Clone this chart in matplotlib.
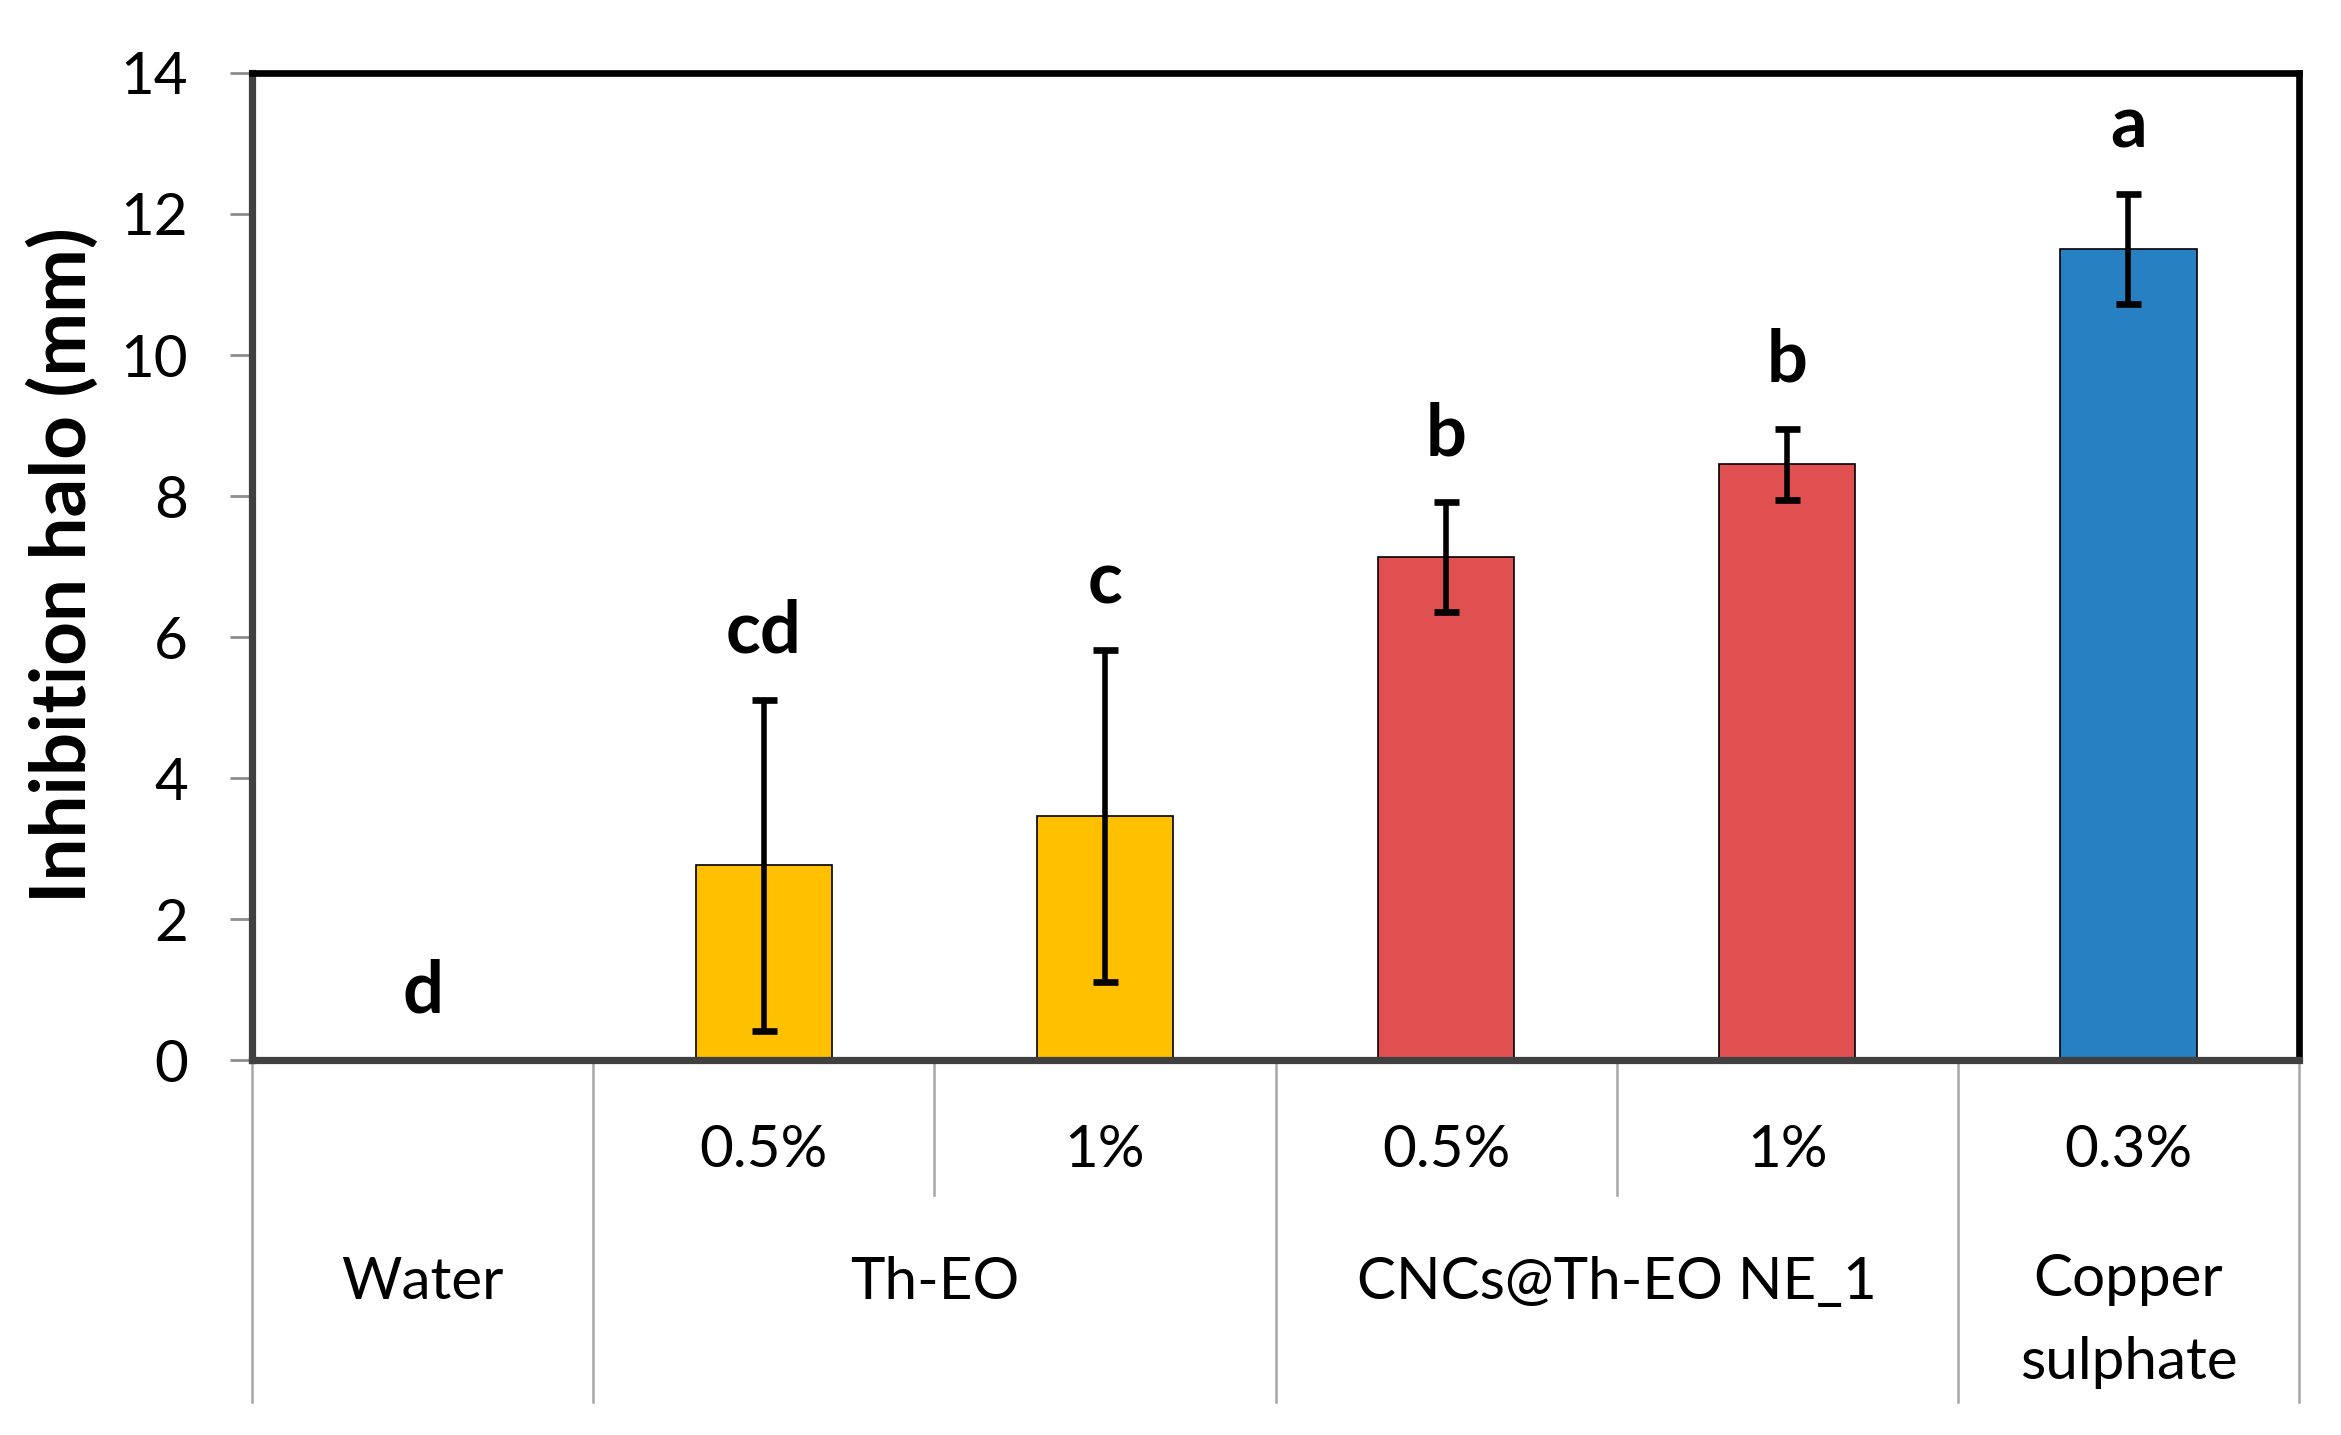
import matplotlib
matplotlib.use("Agg")
import matplotlib.pyplot as plt
import numpy as np

plt.rcParams['font.family'] = ['Lato', 'DejaVu Sans']

# ---- data ----
sub_labels = ["", "0.5%", "1%", "0.5%", "1%", "0.3%"]
group_labels = ["Water", "Th-EO", "CNCs@Th-EO NE_1", "Copper\nsulphate"]
group_spans = [(0, 0), (1, 2), (3, 4), (5, 5)]   # first/last category index in each group
values = [0.0, 2.76, 3.46, 7.13, 8.45, 11.5]
errors = [0.0, 2.35, 2.35, 0.78, 0.50, 0.78]
letters = ["d", "cd", "c", "b", "b", "a"]
colors = ["#FFC000", "#FFC000", "#FFC000", "#E05050", "#E05050", "#2680C2"]
yticks = [0, 2, 4, 6, 8, 10, 12, 14]

fig = plt.figure(figsize=(11.705, 7.175), dpi=200)
ax = fig.add_axes([0.10765, 0.26132, 0.98206 - 0.10765, 0.94913 - 0.26132])

x = np.arange(len(values))
ax.bar(x, values, width=0.40, color=colors, edgecolor="black", linewidth=0.6, zorder=2)

idx = [i for i in range(len(values)) if errors[i] > 0]
ax.errorbar(x[idx], np.array(values)[idx], yerr=np.array(errors)[idx], fmt="none",
            ecolor="black", elinewidth=2.0, capsize=4.5, capthick=2.4, zorder=3)

for i in range(len(values)):
    top = values[i] + errors[i]
    ax.annotate(letters[i], xy=(x[i], top), xytext=(0, 17), textcoords="offset points",
                ha="center", va="baseline", fontsize=26, fontweight="bold", color="black")

ax.set_xlim(-0.5, len(values) - 0.5)
ax.set_ylim(0, 14)
ax.set_yticks(yticks)
ax.set_yticklabels([str(t) for t in yticks], fontsize=21)
ax.tick_params(axis="y", direction="out", length=8, width=1.0, color="#8c8c8c", pad=15)
ax.tick_params(axis="x", bottom=False, labelbottom=False)

for s in ["top", "right"]:
    ax.spines[s].set_color("black")
    ax.spines[s].set_linewidth(2.4)
for s in ["left", "bottom"]:
    ax.spines[s].set_color("#404040")
    ax.spines[s].set_linewidth(2.6)
ax.spines["bottom"].set_zorder(4)

fig.text(0.0269, 0.6060, "Inhibition halo (mm)", rotation=90, ha="center", va="center",
         fontsize=27.5, fontweight="bold")

trans = ax.get_xaxis_transform()
# divider lines
full_bounds = [-0.5] + [g[1] + 0.5 for g in group_spans]
short_bounds = [b + 0.5 for g in group_spans for b in range(g[0], g[1])]
for b in full_bounds:
    ax.plot([b, b], [0, -0.3465], transform=trans, color="#a6a6a6", lw=0.9, clip_on=False)
for b in short_bounds:
    ax.plot([b, b], [0, -0.137], transform=trans, color="#a6a6a6", lw=0.9, clip_on=False)

# sub labels
for i, lab in enumerate(sub_labels):
    if lab:
        ax.text(x[i], -0.0912, lab, transform=trans, ha="center", va="center", fontsize=21)

# group labels
for lab, (a, b) in zip(group_labels, group_spans):
    cx = (a + b) / 2
    if "\n" in lab:
        ax.text(cx, -0.2644, lab, transform=trans, ha="center", va="center", fontsize=21,
                linespacing=1.7)
    else:
        ax.text(cx, -0.2254, lab, transform=trans, ha="center", va="center", fontsize=21)

fig.savefig("out.png", dpi=200, facecolor="white")
